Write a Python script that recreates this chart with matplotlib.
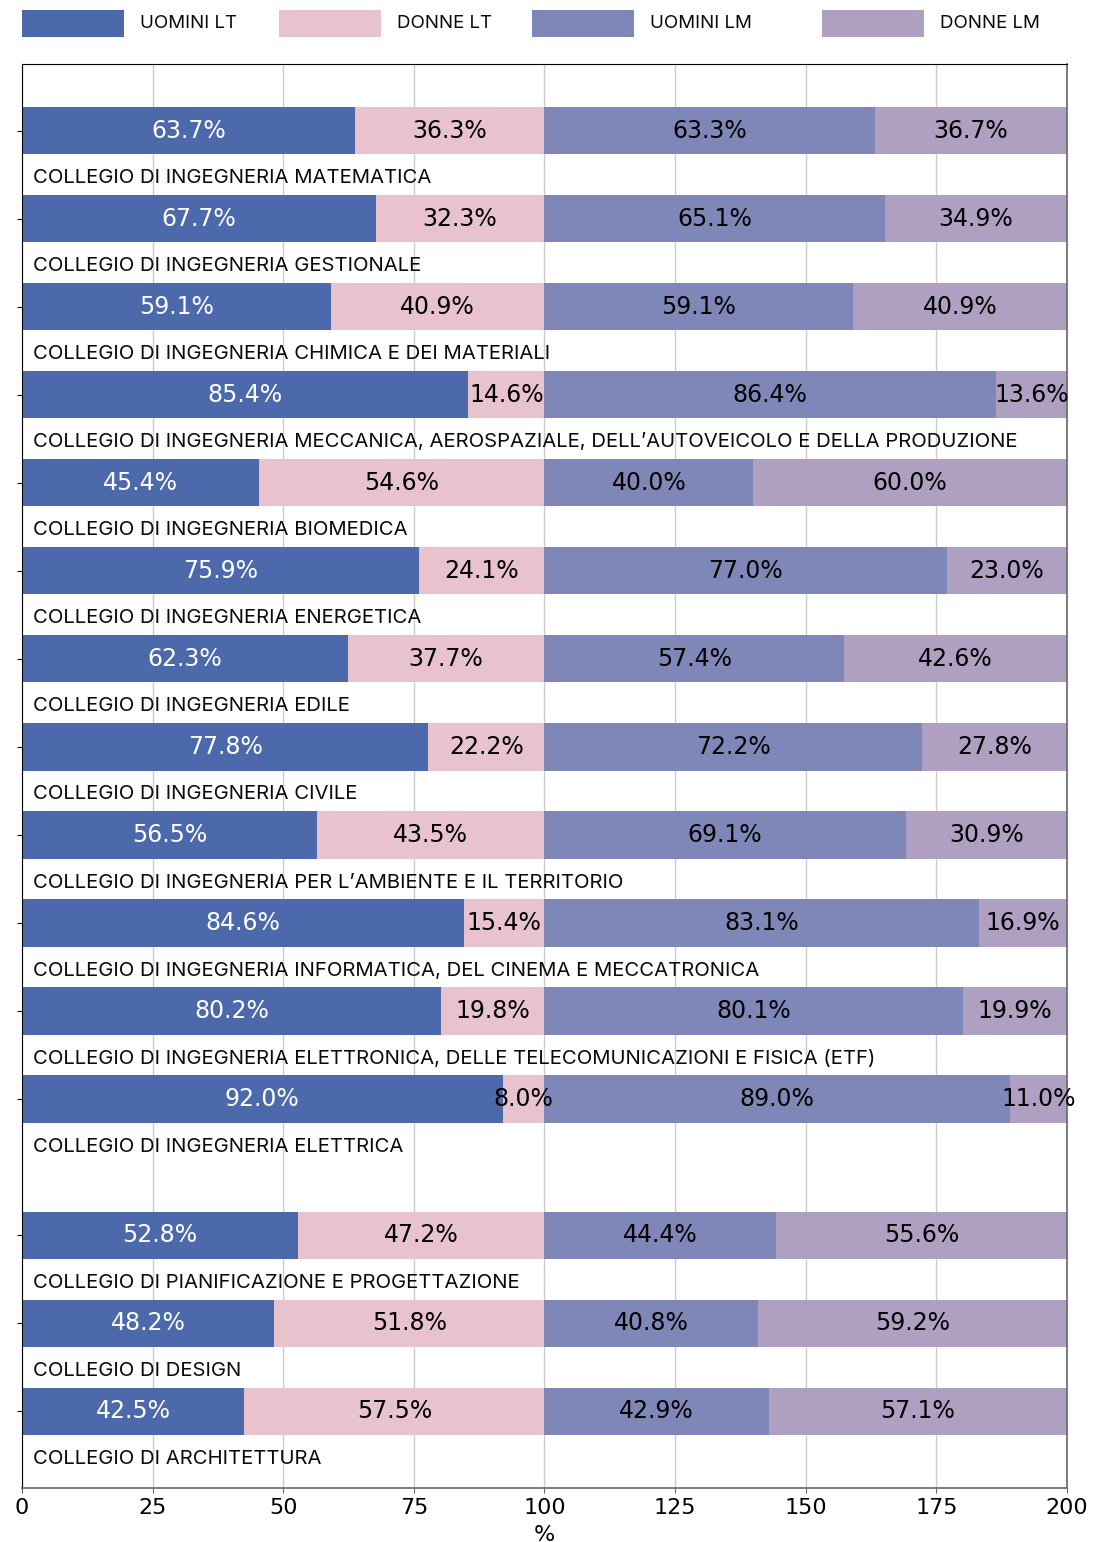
import matplotlib.pyplot as plt
import numpy as np
from matplotlib.patches import Rectangle

collegi = [
    "COLLEGIO DI INGEGNERIA MATEMATICA",
    "COLLEGIO DI INGEGNERIA GESTIONALE",
    "COLLEGIO DI INGEGNERIA CHIMICA E DEI MATERIALI",
    "COLLEGIO DI INGEGNERIA MECCANICA, AEROSPAZIALE, DELL\u2019AUTOVEICOLO E DELLA PRODUZIONE",
    "COLLEGIO DI INGEGNERIA BIOMEDICA",
    "COLLEGIO DI INGEGNERIA ENERGETICA",
    "COLLEGIO DI INGEGNERIA EDILE",
    "COLLEGIO DI INGEGNERIA CIVILE",
    "COLLEGIO DI INGEGNERIA PER L\u2019AMBIENTE E IL TERRITORIO",
    "COLLEGIO DI INGEGNERIA INFORMATICA, DEL CINEMA E MECCATRONICA",
    "COLLEGIO DI INGEGNERIA ELETTRONICA, DELLE TELECOMUNICAZIONI E FISICA (ETF)",
    "COLLEGIO DI INGEGNERIA ELETTRICA",
    "COLLEGIO DI PIANIFICAZIONE E PROGETTAZIONE",
    "COLLEGIO DI DESIGN",
    "COLLEGIO DI ARCHITETTURA",
]
uomini_lt = [63.7, 67.7, 59.1, 85.4, 45.4, 75.9, 62.3, 77.8, 56.5, 84.6, 80.2, 92.0, 52.8, 48.2, 42.5]
donne_lt = [36.3, 32.3, 40.9, 14.6, 54.6, 24.1, 37.7, 22.2, 43.5, 15.4, 19.8, 8.0, 47.2, 51.8, 57.5]
uomini_lm = [63.3, 65.1, 59.1, 86.4, 40.0, 77.0, 57.4, 72.2, 69.1, 83.1, 80.1, 89.0, 44.4, 40.8, 42.9]
donne_lm = [36.7, 34.9, 40.9, 13.6, 60.0, 23.0, 42.6, 27.8, 30.9, 16.9, 19.9, 11.0, 55.6, 59.2, 57.1]
serie = ["UOMINI LT", "DONNE LT", "UOMINI LM", "DONNE LM"]
colori = ["#4c69ac", "#e8c3cd", "#7f87b9", "#afa0c2"]

label_font = ["Inter", "DejaVu Sans"]

# posizioni: ingegneria 0..11, poi un salto prima degli altri collegi
pos = np.arange(len(collegi), dtype=float)
pos[12:] += 0.55

W, H = 1094, 1542
fig = plt.figure(figsize=(W / 100, H / 100), dpi=100)
ax = fig.add_axes([0.0201, 0.035, 0.9552, 0.9235])

valori = [uomini_lt, donne_lt, uomini_lm, donne_lm]
left = np.zeros(len(collegi))
for k, v in enumerate(valori):
    v = np.array(v)
    ax.barh(pos, v, left=left, height=0.535, color=colori[k], zorder=2)
    for y, l, w in zip(pos, left, v):
        ax.text(l + w / 2, y, f"{w:.1f}%", ha="center", va="center",
                fontsize=17, color="white" if k == 0 else "black", zorder=3)
    left = left + v

for y, nome in zip(pos, collegi):
    ax.text(2.1, y + 0.54, nome, ha="left", va="center", fontsize=14.6,
            family=label_font, color="#0a0a0a")

ax.set_xlim(0, 200)
ax.set_ylim(15.42, -0.76)
ax.set_xticks(np.arange(0, 201, 25))
ax.tick_params(axis="x", labelsize=16, color="#666666")
ax.set_yticks(pos)
ax.set_yticklabels([])
ax.xaxis.grid(True, color="#cccccc", linewidth=1, zorder=0)
ax.set_axisbelow(True)
ax.set_xlabel("%", fontsize=16, labelpad=5)
for s in ["right", "bottom"]:
    ax.spines[s].set_color("#666666")
    ax.spines[s].set_linewidth(1.2)

# legenda in alto, fuori dagli assi
leg_x = [22, 279, 532, 822]
for x0, nome, c in zip(leg_x, serie, colori):
    fig.add_artist(Rectangle((x0 / W, 1 - 37 / H), 102 / W, 27 / H,
                             transform=fig.transFigure, color=c, lw=0))
    fig.text((x0 + 118) / W, 1 - 24 / H, nome, ha="left", va="center",
             fontsize=13.5, family=label_font, color="#0a0a0a")

fig.savefig("out.png", dpi=100)
